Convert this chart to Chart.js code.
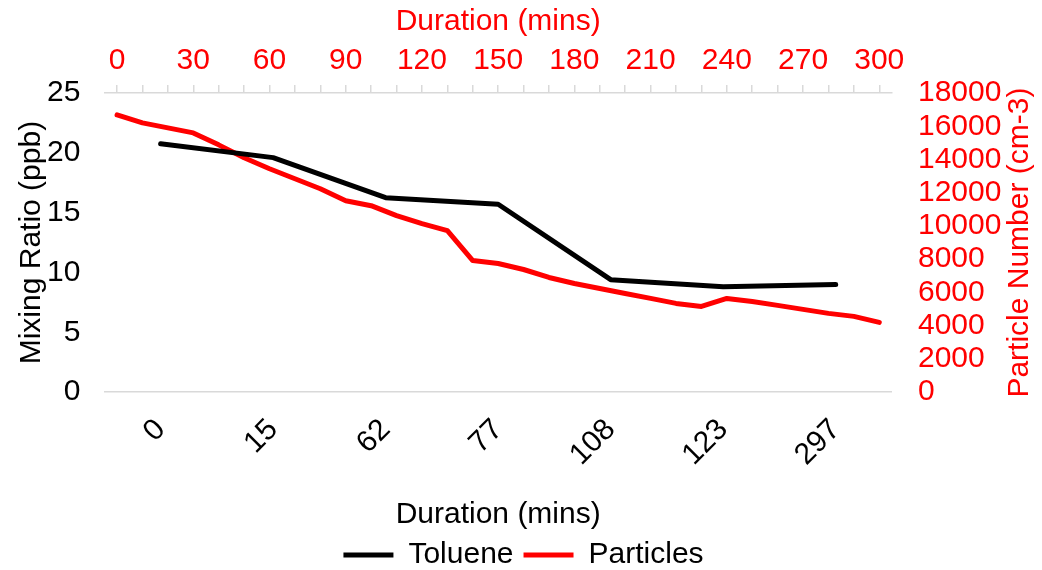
<!DOCTYPE html>
<html>
<head>
<meta charset="utf-8">
<script src="https://cdn.jsdelivr.net/npm/chart.js@4/dist/chart.umd.min.js"></script>
<style>
  html, body { margin: 0; padding: 0; background: #fff; }
  #wrap { width: 1042px; height: 570px; }
</style>
</head>
<body>
<div id="wrap"><canvas id="mixChart"></canvas></div>
<script>
// bottom axis: sampling times (category labels)
const sampleTimes = ['0', '15', '62', '77', '108', '123', '297'];
const toluene = [20.75, 19.6, 16.25, 15.7, 9.4, 8.8, 9.0];

// top axis: particle counter time (mins)
const durationLabels = ['0', '10', '20', '30', '40', '50', '60', '70', '80', '90', '100',
  '110', '120', '130', '140', '150', '160', '170', '180', '190', '200',
  '210', '220', '230', '240', '250', '260', '270', '280', '290', '300'];
const particles = [16680, 16200, 15900, 15600, 14880, 14100, 13440, 12840, 12240, 11520, 11220,
  10620, 10140, 9720, 7920, 7740, 7380, 6900, 6540, 6240, 5940,
  5640, 5340, 5160, 5640, 5460, 5220, 4980, 4740, 4560, 4200];

const FONT = '"Liberation Sans", Arial, Helvetica, sans-serif';
const RED = '#ff0000';
const AXIS_GREY = '#d9d9d9';
const tickFont = { family: FONT, size: 30 };
const titleFont = { family: FONT, size: 30, lineHeight: 1 };

// right title reads bottom-to-top in the original, so draw it ourselves
const rightTitle = {
  id: 'rightTitle',
  afterDraw(c) {
    const s = c.scales.y2;
    const ctx = c.ctx;
    ctx.save();
    ctx.translate(s.right - 17, (s.top + s.bottom) / 2);
    ctx.rotate(-Math.PI / 2);
    ctx.font = '30px ' + FONT;
    ctx.fillStyle = RED;
    ctx.textAlign = 'center';
    ctx.textBaseline = 'middle';
    ctx.fillText('Particle Number (cm-3)', 0, 0);
    ctx.restore();
  }
};

const ctx = document.getElementById('mixChart').getContext('2d');
const legendDefaults = Chart.defaults.plugins.legend.labels.generateLabels;

new Chart(ctx, {
  type: 'line',
  data: {
    datasets: [
      {
        label: 'Toluene',
        data: toluene,
        xAxisID: 'x',
        yAxisID: 'y',
        borderColor: '#000000',
        backgroundColor: '#000000',
        borderWidth: 5,
        pointRadius: 0,
        borderCapStyle: 'round',
        borderJoinStyle: 'round',
        tension: 0
      },
      {
        label: 'Particles',
        data: particles,
        xAxisID: 'x2',
        yAxisID: 'y2',
        borderColor: RED,
        backgroundColor: RED,
        borderWidth: 5,
        pointRadius: 0,
        borderCapStyle: 'round',
        borderJoinStyle: 'round',
        tension: 0
      }
    ]
  },
  options: {
    responsive: true,
    maintainAspectRatio: false,
    animation: false,
    layout: { padding: { left: 10, right: 5, top: 5, bottom: -10 } },
    plugins: {
      tooltip: { enabled: false },
      legend: {
        position: 'bottom',
        labels: {
          font: { family: FONT, size: 30 },
          color: '#000',
          boxWidth: 50,
          boxHeight: 5,
          padding: 10,
          generateLabels(chart) {
            return legendDefaults(chart).map(l => Object.assign(l, { lineWidth: 0 }));
          }
        }
      }
    },
    scales: {
      x: {
        type: 'category',
        position: 'bottom',
        labels: sampleTimes,
        offset: true,
        grid: { drawOnChartArea: false, drawTicks: false },
        border: { color: AXIS_GREY, width: 1.5 },
        ticks: {
          color: '#000',
          font: tickFont,
          minRotation: 45,
          maxRotation: 45,
          padding: 20,
          autoSkip: false
        },
        title: {
          display: true,
          text: 'Duration (mins)',
          color: '#000',
          font: titleFont,
          padding: { top: 7, bottom: 0 }
        }
      },
      x2: {
        type: 'category',
        position: 'top',
        labels: durationLabels,
        offset: true,
        grid: { drawOnChartArea: false, color: AXIS_GREY, lineWidth: 1.5, tickLength: 8 },
        border: { color: AXIS_GREY, width: 1.5 },
        ticks: {
          color: RED,
          font: tickFont,
          maxRotation: 0,
          autoSkip: false,
          padding: 6,
          callback(v, i) { return i % 3 === 0 ? this.getLabelForValue(v) : ''; }
        },
        title: {
          display: true,
          text: 'Duration (mins)',
          color: RED,
          font: titleFont,
          padding: { top: 2, bottom: 0 }
        }
      },
      y: {
        position: 'left',
        min: 0,
        max: 25,
        grid: { display: false, tickLength: 24 },
        border: { display: false },
        ticks: {
          stepSize: 5,
          color: '#000',
          font: tickFont,
          padding: 0
        },
        title: {
          display: true,
          text: 'Mixing Ratio (ppb)',
          color: '#000',
          font: titleFont,
          padding: { top: 7, bottom: 0 }
        }
      },
      y2: {
        position: 'right',
        min: 0,
        max: 18000,
        grid: { display: false, tickLength: 26 },
        border: { display: false },
        ticks: {
          stepSize: 2000,
          autoSkip: false,
          color: RED,
          font: tickFont,
          padding: 0,
          callback(v) { return String(v); }
        },
        title: {
          display: true,
          text: 'Particle Number (cm-3)',
          color: 'rgba(0,0,0,0)',
          font: titleFont,
          padding: { top: 2, bottom: 3.6 }
        }
      }
    }
  },
  plugins: [rightTitle]
});
</script>
</body>
</html>
